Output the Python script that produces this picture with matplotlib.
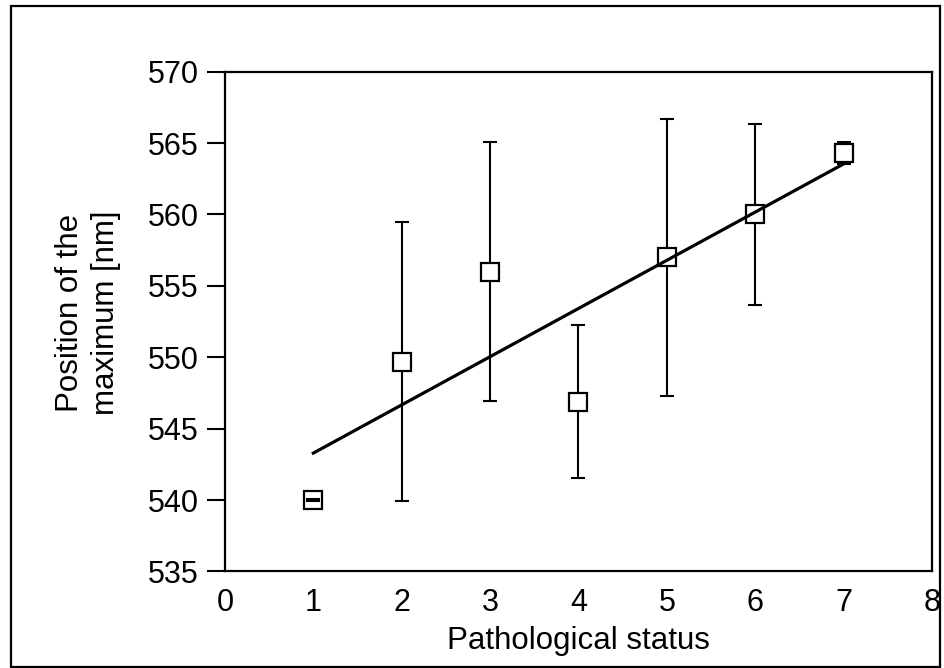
import numpy as np
import matplotlib
matplotlib.use("Agg")
import matplotlib.pyplot as plt
from matplotlib.patches import Rectangle

plt.rcParams['font.family'] = ['Liberation Sans', 'DejaVu Sans']

# data
status = [1, 2, 3, 4, 5, 6, 7]
peak = [540.0, 549.7, 556.0, 546.9, 557.0, 560.0, 564.3]
err = [0.05, 9.8, 9.05, 5.35, 9.7, 6.35, 0.8]

# linear fit through the points
slope, icpt = np.polyfit(status, peak, 1)
xfit = np.array([status[0], status[-1]])
yfit = icpt + slope * xfit

fs = 22.5

fig = plt.figure(figsize=(9.44, 6.68), dpi=100)
ax = fig.add_axes([0.2383, 0.1445, 0.7490, 0.7483])

_, caps, _ = ax.errorbar(status, peak, yerr=err, fmt='none', ecolor='black',
                         elinewidth=1.5, capsize=4.7, capthick=1.5, zorder=2)
for c in caps:
    c.set_zorder(5)
ax.plot(status, peak, 's', ms=13, mfc='white', mec='black', mew=1.6, zorder=3)
ax.plot(xfit, yfit, '-', color='black', lw=2.3, zorder=4)

ax.set_xlim(0, 8)
ax.set_ylim(535, 570)
ax.set_xticks(range(0, 9))
ax.set_yticks(range(535, 571, 5))

for s in ax.spines.values():
    s.set_linewidth(1.6)

ax.tick_params(axis='y', direction='out', length=13, width=1.5, pad=6, labelsize=22)
ax.tick_params(axis='x', length=0, pad=12, labelsize=22)

ax.set_xlabel('Pathological status', fontsize=fs, labelpad=6)
ax.set_ylabel('Position of the\nmaximum [nm]', fontsize=fs, linespacing=1.25)
ax.yaxis.set_label_coords(-0.147, 0.518)

# frame around the whole figure
fig.patches.append(Rectangle((0.0117, 0.0015), 0.984, 0.990, transform=fig.transFigure,
                             fill=False, edgecolor='black', lw=1.6))

fig.savefig('out.png', dpi=100)
